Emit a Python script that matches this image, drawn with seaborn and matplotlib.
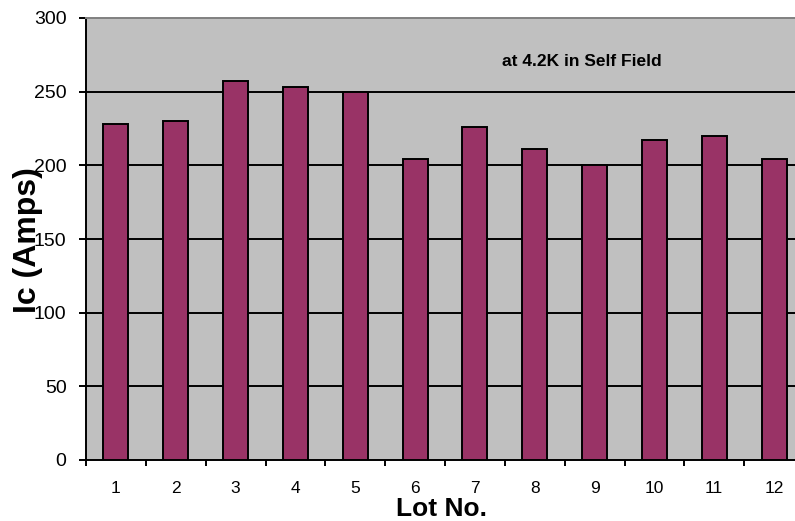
import matplotlib
matplotlib.use("Agg")
import matplotlib.pyplot as plt
import seaborn as sns
import pandas as pd
from matplotlib.ticker import FixedLocator

# Critical current per production lot
lots = ["1", "2", "3", "4", "5", "6", "7", "8", "9", "10", "11", "12"]
ic_amps = [228, 230, 257, 253, 250, 204, 226, 211, 200, 217, 220, 204]
y_ticks = [0, 50, 100, 150, 200, 250, 300]

df = pd.DataFrame({"Lot": lots, "Ic": ic_amps})

sns.set_theme(style="white")
plt.rcParams["font.family"] = ["Liberation Sans", "DejaVu Sans"]
plt.rcParams["text.color"] = "black"
plt.rcParams["axes.labelcolor"] = "black"
plt.rcParams["xtick.color"] = "black"
plt.rcParams["ytick.color"] = "black"

fig = plt.figure(figsize=(7.95, 5.21), dpi=100)
ax = fig.add_axes([86 / 795, 1 - 460 / 521, 718 / 795, 442 / 521])
ax.set_facecolor("#C0C0C0")

sns.barplot(data=df, x="Lot", y="Ic", order=lots, color="#993366",
            saturation=1, width=0.42, edgecolor="black", linewidth=1.4,
            ax=ax, zorder=3)

ax.set_xlim(-0.5, len(lots) - 0.5)
ax.set_ylim(0, 300)
ax.set_yticks(y_ticks)
ax.set_yticklabels([str(v) for v in y_ticks], fontsize=14)

# horizontal gridlines
ax.set_axisbelow(True)
ax.yaxis.grid(True, color="black", linewidth=1.4)
ax.xaxis.grid(False)
for gl, v in zip(ax.yaxis.get_gridlines(), y_ticks):
    if v in (0, 300):
        gl.set_visible(False)

# category labels centred, tick marks on category boundaries
ax.tick_params(axis="x", which="major", length=0, pad=15, labelsize=12.5,
               colors="black")
ax.xaxis.set_minor_locator(FixedLocator([i - 0.5 for i in range(len(lots) + 1)]))
ax.tick_params(axis="x", which="minor", length=4, width=1.4, color="black",
               direction="out", bottom=True)
ax.tick_params(axis="y", length=5, width=1.4, color="black", direction="out",
               left=True, pad=9, labelcolor="black")

for side in ("left", "bottom"):
    ax.spines[side].set_color("black")
    ax.spines[side].set_linewidth(1.4)
ax.spines["top"].set_color("#808080")
ax.spines["top"].set_linewidth(1.4)
ax.spines["right"].set_visible(False)

ax.set_xlabel("")
ax.set_ylabel("")
fig.text(442 / 795, 1 - 509 / 521, "Lot No.", ha="center", va="center",
         fontsize=19, fontweight="bold", color="black")
fig.text(28 / 795, 1 - 240 / 521, "Ic (Amps)", ha="center", va="center",
         rotation=90, fontsize=23, fontweight="bold", color="black")
fig.text(582 / 795, 1 - 61 / 521, "at 4.2K in Self Field", ha="center",
         va="center", fontsize=12.5, fontweight="bold", color="black")

fig.savefig("out.png", dpi=100)
